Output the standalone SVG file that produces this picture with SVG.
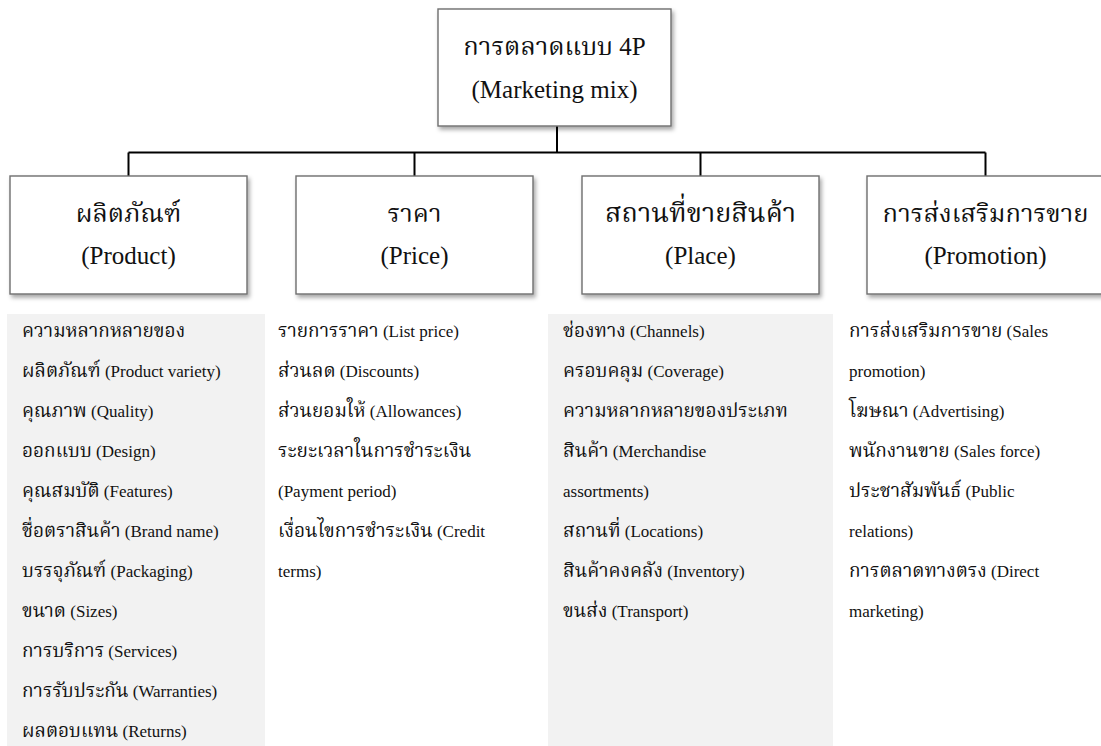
<svg xmlns="http://www.w3.org/2000/svg" width="1101" height="746" viewBox="0 0 1101 746">
  <style>
    .box { fill: #ffffff; stroke: #6e6e6e; stroke-width: 1.4; filter: url(#shadow); }
    .title { font-family: "Liberation Serif", "Noto Serif Thai", "Noto Sans Thai", serif; font-size: 25px; fill: #111; text-anchor: middle; }
    .title .th { font-size: 25.5px; }
    .title .th.wide { font-size: 27px; }
    .item { font-family: "Liberation Serif", "Noto Serif Thai", "Noto Sans Thai", serif; font-size: 17px; fill: #111; }
    .item .th { font-size: 19px; }
    .panel { fill: #f2f2f2; }
    .wire { fill: none; stroke: #000; stroke-width: 2; }
  </style>
  <defs>
    <filter id="shadow" x="-10%" y="-10%" width="125%" height="130%">
      <feDropShadow dx="2" dy="3" stdDeviation="2" flood-color="#000" flood-opacity="0.35"/>
    </filter>
  </defs>

  <rect width="1101" height="746" fill="#ffffff"/>

  <!-- background panels behind the first and third lists -->
  <rect class="panel" x="7" y="314" width="258" height="432"/>
  <rect class="panel" x="548" y="314" width="285" height="432"/>

  <!-- connectors -->
  <g id="connectors">
    <path class="wire" d="M557 126 V152.5"/>
    <path class="wire" d="M128.5 152.5 H985.5"/>
    <path class="wire" d="M128.5 152.5 V176"/>
    <path class="wire" d="M414.5 152.5 V176"/>
    <path class="wire" d="M700.5 152.5 V176"/>
    <path class="wire" d="M985.5 152.5 V176"/>
  </g>

  <!-- root -->
  <g id="marketing-mix">
    <rect class="box" x="438" y="9" width="233" height="117"/>
    <text class="title" x="554.5" y="55"><tspan class="th">การตลาดแบบ</tspan> 4P</text>
    <text class="title" x="554.5" y="98">(Marketing mix)</text>
  </g>

  <!-- four Ps -->
  <g id="product">
    <rect class="box" x="10" y="176" width="237" height="118"/>
    <text class="title" x="128.5" y="222"><tspan class="th">ผลิตภัณฑ์</tspan></text>
    <text class="title" x="128.5" y="264">(Product)</text>
  </g>
  <g id="price">
    <rect class="box" x="296" y="176" width="237" height="118"/>
    <text class="title" x="414.5" y="222"><tspan class="th">ราคา</tspan></text>
    <text class="title" x="414.5" y="264">(Price)</text>
  </g>
  <g id="place">
    <rect class="box" x="582" y="176" width="237" height="118"/>
    <text class="title" x="700.5" y="222"><tspan class="th wide">สถานที่ขายสินค้า</tspan></text>
    <text class="title" x="700.5" y="264">(Place)</text>
  </g>
  <g id="promotion">
    <rect class="box" x="867" y="176" width="237" height="118"/>
    <text class="title" x="985.5" y="222"><tspan class="th">การส่งเสริมการขาย</tspan></text>
    <text class="title" x="985.5" y="264">(Promotion)</text>
  </g>

  <!-- detail lists -->
  <g id="product-list" class="item">
    <text x="22" y="337"><tspan class="th">ความหลากหลายของ</tspan></text>
    <text x="22" y="377"><tspan class="th">ผลิตภัณฑ์</tspan> (Product variety)</text>
    <text x="22" y="417"><tspan class="th">คุณภาพ</tspan> (Quality)</text>
    <text x="22" y="457"><tspan class="th">ออกแบบ</tspan> (Design)</text>
    <text x="22" y="497"><tspan class="th">คุณสมบัติ</tspan> (Features)</text>
    <text x="22" y="537"><tspan class="th">ชื่อตราสินค้า</tspan> (Brand name)</text>
    <text x="22" y="577"><tspan class="th">บรรจุภัณฑ์</tspan> (Packaging)</text>
    <text x="22" y="617"><tspan class="th">ขนาด</tspan> (Sizes)</text>
    <text x="22" y="657"><tspan class="th">การบริการ</tspan> (Services)</text>
    <text x="22" y="697"><tspan class="th">การรับประกัน</tspan> (Warranties)</text>
    <text x="22" y="737"><tspan class="th">ผลตอบแทน</tspan> (Returns)</text>
  </g>
  <g id="price-list" class="item">
    <text x="278" y="337"><tspan class="th">รายการราคา</tspan> (List price)</text>
    <text x="278" y="377"><tspan class="th">ส่วนลด</tspan> (Discounts)</text>
    <text x="278" y="417"><tspan class="th">ส่วนยอมให้</tspan> (Allowances)</text>
    <text x="278" y="457"><tspan class="th">ระยะเวลาในการชำระเงิน</tspan></text>
    <text x="278" y="497">(Payment period)</text>
    <text x="278" y="537"><tspan class="th">เงื่อนไขการชำระเงิน</tspan> (Credit</text>
    <text x="278" y="577">terms)</text>
  </g>
  <g id="place-list" class="item">
    <text x="563" y="337"><tspan class="th">ช่องทาง</tspan> (Channels)</text>
    <text x="563" y="377"><tspan class="th">ครอบคลุม</tspan> (Coverage)</text>
    <text x="563" y="417"><tspan class="th">ความหลากหลายของประเภท</tspan></text>
    <text x="563" y="457"><tspan class="th">สินค้า</tspan> (Merchandise</text>
    <text x="563" y="497">assortments)</text>
    <text x="563" y="537"><tspan class="th">สถานที่</tspan> (Locations)</text>
    <text x="563" y="577"><tspan class="th">สินค้าคงคลัง</tspan> (Inventory)</text>
    <text x="563" y="617"><tspan class="th">ขนส่ง</tspan> (Transport)</text>
  </g>
  <g id="promotion-list" class="item">
    <text x="849" y="337"><tspan class="th">การส่งเสริมการขาย</tspan> (Sales</text>
    <text x="849" y="377">promotion)</text>
    <text x="849" y="417"><tspan class="th">โฆษณา</tspan> (Advertising)</text>
    <text x="849" y="457"><tspan class="th">พนักงานขาย</tspan> (Sales force)</text>
    <text x="849" y="497"><tspan class="th">ประชาสัมพันธ์</tspan> (Public</text>
    <text x="849" y="537">relations)</text>
    <text x="849" y="577"><tspan class="th">การตลาดทางตรง</tspan> (Direct</text>
    <text x="849" y="617">marketing)</text>
  </g>
</svg>
